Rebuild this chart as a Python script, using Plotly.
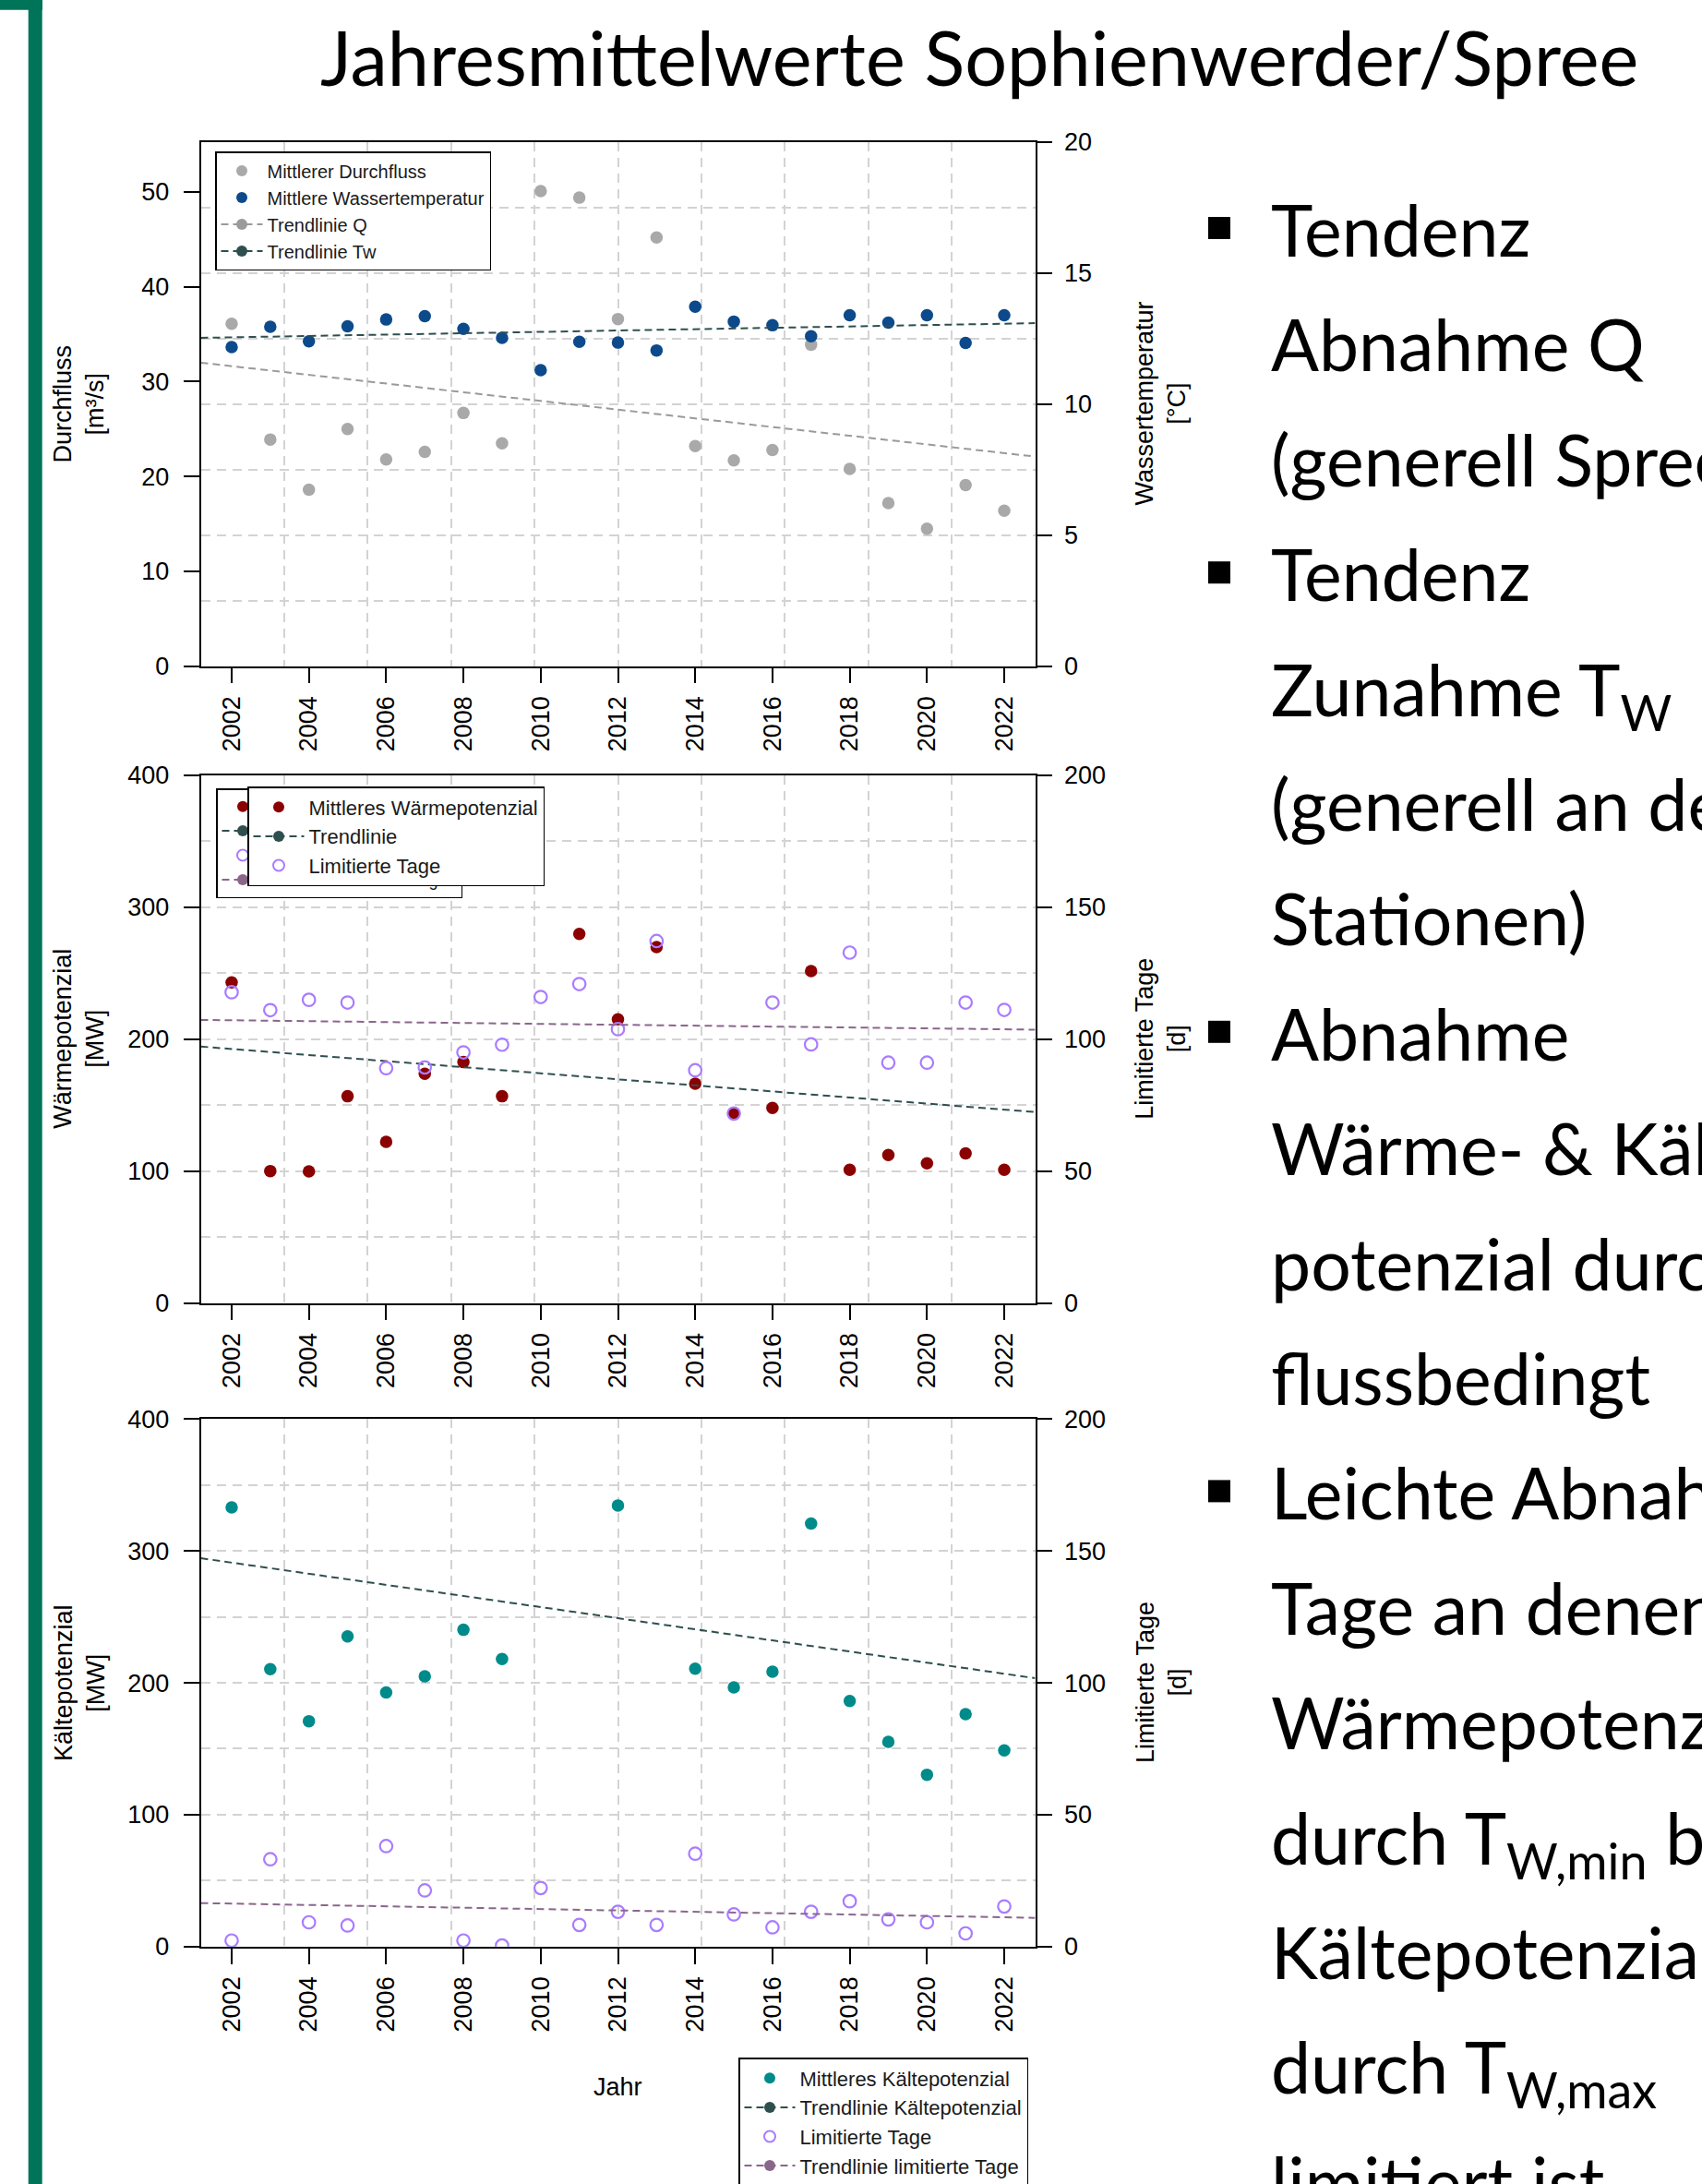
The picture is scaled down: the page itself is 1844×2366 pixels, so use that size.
import plotly.graph_objects as go

W, H = 1844, 2366

# ---------------- data ----------------
YEARS = list(range(2002, 2023))
YEAR_TICKS = list(range(2002, 2023, 2))

DURCHFLUSS = [36.1, 23.9, 18.6, 25.0, 21.8, 22.6, 26.7, 23.5, 50.1, 49.4, 36.6,
              45.2, 23.2, 21.7, 22.8, 33.9, 20.8, 17.2, 14.5, 19.1, 16.4]
WASSERTEMP = [12.17, 12.94, 12.39, 12.96, 13.22, 13.35, 12.86, 12.52, 11.29, 12.37, 12.34,
              12.04, 13.71, 13.14, 13.00, 12.58, 13.38, 13.10, 13.38, 12.33, 13.38]
WAERME = [243.1, 100.0, 99.7, 156.7, 122.2, 173.7, 182.6, 156.7, None, 279.8, 215.0,
          269.8, 166.3, 143.8, 147.8, 251.6, 100.9, 112.2, 105.9, 113.4, 100.9]
LIM_WAERME = [117.8, 111.0, 114.9, 113.9, 89.0, 89.3, 95.0, 97.9, 116.0, 120.9, 103.8,
              137.2, 88.2, 71.8, 113.9, 98.0, 132.8, 91.1, 91.1, 113.9, 111.1]
KAELTE = [333.0, 210.3, 170.9, 235.2, 192.7, 205.0, 240.2, 218.0, None, None, 334.5,
          None, 210.7, 196.6, 208.4, 320.7, 186.2, 155.2, 130.3, 176.2, 148.7]
LIM_KAELTE = [2.3, 33.1, 9.2, 8.0, 38.1, 21.3, 2.3, 0.4, 22.2, 8.2, 13.2,
              8.2, 35.2, 12.2, 7.3, 13.2, 17.2, 10.3, 9.2, 5.0, 15.2]

# trend lines (values read at the left / right edge of the plot range)
X_RANGE = [2001.2, 2022.8]
TREND_Q = [32.0, 22.1]
TREND_TW = [12.52, 13.08]
TREND_WAERME = [194.4, 144.7]
TREND_LIM_WAERME = [107.3, 103.6]
TREND_KAELTE = [294.5, 203.5]
TREND_LIM_KAELTE = [16.5, 10.9]

Q_TICKS = [0, 10, 20, 30, 40, 50]
TW_TICKS = [0, 5, 10, 15, 20]
MW_TICKS = [0, 100, 200, 300, 400]
D_TICKS = [0, 50, 100, 150, 200]

TITLE = "Jahresmittelwerte Sophienwerder/Spree"
BULLETS = [
    ["Tendenz", "Abnahme Q", "(generell Spree)"],
    ["Tendenz", "Zunahme T<sub>W</sub>", "(generell an den", "Stationen)"],
    ["Abnahme", "Wärme- & Kälte-", "potenzial durch-", "flussbedingt"],
    ["Leichte Abnahme der", "Tage an denen", "Wärmepotenzial", "durch T<sub>W,min</sub> bzw.",
     "Kältepotenzial", "durch T<sub>W,max</sub>", "limitiert ist"],
]

# ---------------- styles ----------------
C_Q = "#a9a9a9"
C_TREND_Q = "#9a9a9a"
C_TW = "#0c4a8c"
C_DSG = "#2f4f4f"
C_RED = "#8b0000"
C_PURPLE = "#a97cff"
C_TREND_P = "#8b668b"
C_TEAL = "#008b8b"
C_GRID = "#d3d3d3"
C_GREEN = "#007458"

AFONT = "Liberation Sans, Arial, sans-serif"
SFONT = "Lato, Noto Sans, sans-serif"
TICKFONT = dict(family=AFONT, size=27, color="black")
MS = 13.5
TDASH = "8px,5px"
GDASH = "10px,7px"


def px_x(p):
    return p / W


def px_y(p):
    return 1 - p / H


def grid_vals(lo, hi, n):
    return [lo + (hi - lo) * k / n for k in range(1, n)]


X_DOM = [px_x(217.5), px_x(1121.5)]
PANELS = [(153.5, 721.7), (840.0, 1411.5), (1537.3, 2108.8)]

fig = go.Figure()


def pts(y, color, xa, ya, open_=False):
    if open_:
        marker = dict(symbol="circle-open", size=MS, color=color, line=dict(width=2.2, color=color))
    else:
        marker = dict(symbol="circle", size=MS, color=color, line=dict(width=0))
    fig.add_trace(go.Scatter(x=YEARS, y=y, mode="markers", marker=marker,
                             xaxis=xa, yaxis=ya, showlegend=False, hoverinfo="skip"))


def trend(vals, color, xa, ya):
    fig.add_trace(go.Scatter(x=X_RANGE, y=vals, mode="lines",
                             line=dict(color=color, width=2, dash=TDASH),
                             xaxis=xa, yaxis=ya, showlegend=False, hoverinfo="skip"))


def leg(name, legend, kind, color, xa, ya):
    if kind == "dot":
        kw = dict(mode="markers", marker=dict(symbol="circle", size=12, color=color))
    elif kind == "open":
        kw = dict(mode="markers", marker=dict(symbol="circle-open", size=12, color=color,
                                              line=dict(width=2, color=color)))
    else:
        kw = dict(mode="lines+markers", marker=dict(symbol="circle", size=12, color=color),
                  line=dict(color=color, width=2, dash=TDASH))
    fig.add_trace(go.Scatter(x=[None], y=[None], name=name, legend=legend, showlegend=True,
                             xaxis=xa, yaxis=ya, hoverinfo="skip", **kw))


# panel 1
pts(DURCHFLUSS, C_Q, "x", "y")
trend(TREND_Q, C_TREND_Q, "x", "y")
pts(WASSERTEMP, C_TW, "x", "y2")
trend(TREND_TW, C_DSG, "x", "y2")
# panel 2
pts(WAERME, C_RED, "x2", "y3")
trend(TREND_WAERME, C_DSG, "x2", "y3")
pts(LIM_WAERME, C_PURPLE, "x2", "y4", open_=True)
trend(TREND_LIM_WAERME, C_TREND_P, "x2", "y4")
# panel 3
pts(KAELTE, C_TEAL, "x3", "y5")
trend(TREND_KAELTE, C_DSG, "x3", "y5")
pts(LIM_KAELTE, C_PURPLE, "x3", "y6", open_=True)
trend(TREND_LIM_KAELTE, C_TREND_P, "x3", "y6")

# legends
leg("Mittlerer Durchfluss", "legend", "dot", C_Q, "x", "y")
leg("Mittlere Wassertemperatur", "legend", "dot", C_TW, "x", "y")
leg("Trendlinie Q", "legend", "line", C_TREND_Q, "x", "y")
leg("Trendlinie Tw", "legend", "line", C_DSG, "x", "y")

leg("Mittleres Wärmepotenzial", "legend2", "dot", C_RED, "x2", "y3")
leg("Trendlinie", "legend2", "line", C_DSG, "x2", "y3")
leg("Limitierte Tage", "legend2", "open", C_PURPLE, "x2", "y3")
leg("Trendlinie limitierte Tage", "legend2", "line", C_TREND_P, "x2", "y3")

leg("Mittleres Wärmepotenzial", "legend3", "dot", C_RED, "x2", "y3")
leg("Trendlinie", "legend3", "line", C_DSG, "x2", "y3")
leg("Limitierte Tage", "legend3", "open", C_PURPLE, "x2", "y3")

leg("Mittleres Kältepotenzial", "legend4", "dot", C_TEAL, "x3", "y5")
leg("Trendlinie Kältepotenzial", "legend4", "line", C_DSG, "x3", "y5")
leg("Limitierte Tage", "legend4", "open", C_PURPLE, "x3", "y5")
leg("Trendlinie limitierte Tage", "legend4", "line", C_TREND_P, "x3", "y5")

# ---------------- axes ----------------
layout = {}
grid_x = grid_vals(X_RANGE[0], X_RANGE[1], 10)
axis_specs = [
    (["x", "y", "y2"], [0, 55.3], Q_TICKS, [0, 20], TW_TICKS, False),
    (["x2", "y3", "y4"], [0, 400], MW_TICKS, [0, 200], D_TICKS, True),
    (["x3", "y5", "y6"], [0, 400], MW_TICKS, [0, 200], D_TICKS, True),
]
for i, ((xa, ya, yb), lrange, lticks, rrange, rticks, major_grid) in enumerate(axis_specs):
    top, bot = PANELS[i]
    ydom = [px_y(bot), px_y(top)]
    xkey = "xaxis" if xa == "x" else "xaxis" + xa[1:]
    yakey = "yaxis" if ya == "y" else "yaxis" + ya[1:]
    ybkey = "yaxis" + yb[1:]
    layout[xkey] = dict(
        domain=X_DOM, anchor=ya, range=X_RANGE, tickmode="array", tickvals=YEAR_TICKS,
        tickangle=-90, ticks="outside", ticklen=17, tickwidth=1.5, tickcolor="black",
        showline=True, linecolor="black", linewidth=1.5, mirror=True, automargin=False,
        showgrid=False, zeroline=False, tickfont=TICKFONT, ticklabelstandoff=3,
        minor=dict(tickmode="array", tickvals=grid_x, showgrid=True, gridcolor=C_GRID,
                   griddash=GDASH, gridwidth=1.5, ticks=""),
    )
    layout[yakey] = dict(
        domain=ydom, anchor=xa, range=lrange, tickmode="array", tickvals=lticks,
        ticks="outside", ticklen=17, tickwidth=1.5, tickcolor="black",
        showline=True, linecolor="black", linewidth=1.5, mirror=True, automargin=False,
        showgrid=major_grid, gridcolor=C_GRID, griddash=GDASH, gridwidth=1.5,
        zeroline=False, tickfont=TICKFONT, ticklabelstandoff=10,
        minor=dict(tickmode="array", tickvals=grid_vals(lrange[0], lrange[1], 8), showgrid=True,
                   gridcolor=C_GRID, griddash=GDASH, gridwidth=1.5, ticks=""),
    )
    layout[ybkey] = dict(
        overlaying=ya, side="right", anchor=xa, range=rrange, tickmode="array", tickvals=rticks,
        ticks="outside", ticklen=17, tickwidth=1.5, tickcolor="black", automargin=False,
        showline=False, showgrid=False, zeroline=False, tickfont=TICKFONT, ticklabelstandoff=8,
    )

LEG_BASE = dict(xanchor="left", yanchor="top", bgcolor="white", bordercolor="black",
                borderwidth=1.5, tracegroupgap=0, traceorder="normal")
layout["legend"] = dict(LEG_BASE, x=px_x(233), y=px_y(164), itemwidth=45,
                        font=dict(family=AFONT, size=20, color="#1a1a1a"))
layout["legend2"] = dict(LEG_BASE, x=px_x(234), y=px_y(854), itemwidth=45,
                         font=dict(family=AFONT, size=18, color="#1a1a1a"))
layout["legend3"] = dict(LEG_BASE, x=px_x(268), y=px_y(852), itemwidth=55,
                         font=dict(family=AFONT, size=22, color="#1a1a1a"))
layout["legend4"] = dict(LEG_BASE, x=px_x(800), y=px_y(2229), itemwidth=55,
                         font=dict(family=AFONT, size=22, color="#1a1a1a"))

# ---------------- annotations ----------------
ann = []
AXT = dict(family=AFONT, size=27, color="black")
titles = [("Durchfluss<br>[m³/s]", "Wassertemperatur<br>[°C]"),
          ("Wärmepotenzial<br>[MW]", "Limitierte Tage<br>[d]"),
          ("Kältepotenzial<br>[MW]", "Limitierte Tage<br>[d]")]
for (top, bot), (lt, rt) in zip(PANELS, titles):
    cy = px_y((top + bot) / 2)
    ann.append(dict(x=px_x(86), y=cy, text=lt, textangle=-90, showarrow=False,
                    xref="paper", yref="paper", xanchor="center", yanchor="middle", font=AXT))
    ann.append(dict(x=px_x(1258), y=cy, text=rt, textangle=-90, showarrow=False,
                    xref="paper", yref="paper", xanchor="center", yanchor="middle", font=AXT))
ann.append(dict(x=px_x(669), y=px_y(2261), text="Jahr", showarrow=False, xref="paper",
                yref="paper", xanchor="center", yanchor="middle", font=AXT))

TITLE_SIZE = 81
ann.append(dict(x=px_x(1061), y=px_y(91 - 0.987 * TITLE_SIZE), text=TITLE, showarrow=False,
                xref="paper", yref="paper", xanchor="center", yanchor="top",
                font=dict(family=SFONT, size=TITLE_SIZE, color="black")))

TXT_SIZE = 77
LINE_H = 124.4
shapes = []
line_i = 0
for group in BULLETS:
    for j, line in enumerate(group):
        base = 276 + LINE_H * line_i
        ann.append(dict(x=px_x(1375), y=px_y(base - 0.987 * TXT_SIZE), text=line, showarrow=False,
                        xref="paper", yref="paper", xanchor="left", yanchor="top",
                        font=dict(family=SFONT, size=TXT_SIZE, color="black")))
        if j == 0:
            cy = base - 29
            shapes.append(dict(type="rect", xref="paper", yref="paper",
                               x0=px_x(1309), x1=px_x(1333), y0=px_y(cy + 12), y1=px_y(cy - 12),
                               fillcolor="black", line=dict(width=0)))
        line_i += 1

# green frame on the left
shapes.append(dict(type="rect", xref="paper", yref="paper", x0=0, x1=px_x(46),
                   y0=px_y(10.7), y1=1, fillcolor=C_GREEN, line=dict(width=0)))
shapes.append(dict(type="rect", xref="paper", yref="paper", x0=px_x(30.7), x1=px_x(45.7),
                   y0=0, y1=1, fillcolor=C_GREEN, line=dict(width=0)))

fig.update_layout(
    width=W, height=H, margin=dict(l=0, r=0, t=0, b=0, pad=0, autoexpand=False),
    paper_bgcolor="white", plot_bgcolor="white",
    annotations=ann, shapes=shapes, **layout,
)

fig.write_html(
    "out.html",
    config={"displayModeBar": False},
    post_script="document.body.style.margin='0';document.body.style.overflow='hidden';",
)
